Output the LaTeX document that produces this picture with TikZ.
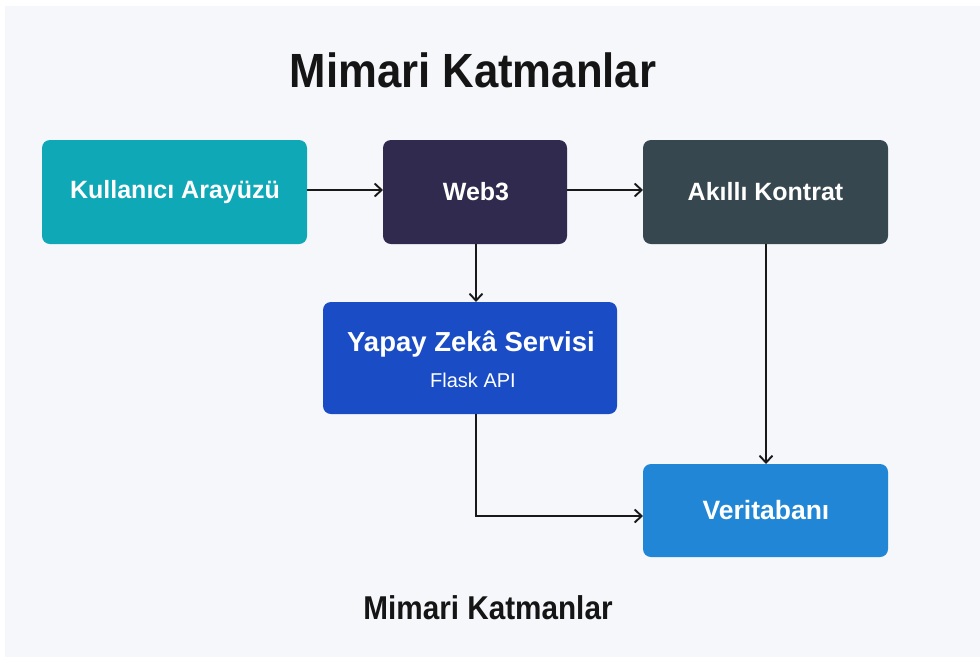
\documentclass[tikz,border=0pt]{standalone}
\usepackage{fontspec}
\setmainfont{Liberation Sans}
\usetikzlibrary{arrows.meta}
\definecolor{bgc}{HTML}{F5F7FA}
\definecolor{teal}{HTML}{0FA8B7}
\definecolor{webc}{HTML}{2F2A4E}
\definecolor{kontc}{HTML}{36474F}
\definecolor{aic}{HTML}{1A4CC5}
\definecolor{dbc}{HTML}{2086D5}
\definecolor{txt}{HTML}{151515}
\tikzset{
  box/.style={draw=none, text=white, font=\bfseries\fontsize{25}{29}\selectfont},
  conn/.style={line width=1.9pt, draw=black!90, -{Straight Barb[length=7pt,width=13pt,line width=1.9pt]}},
}
\begin{document}
\begin{tikzpicture}[x=1pt,y=-1pt]
\useasboundingbox (0,0) rectangle (980,657);
\fill[white] (0,0) rectangle (980,657);
\fill[bgc] (5,6) rectangle (980,657);
\node[font=\bfseries\fontsize{48}{52}\selectfont, text=txt, xscale=0.91] (title) at (473,70) {Mimari Katmanlar};
\fill[teal, rounded corners=8pt] (42,140) rectangle (307,244);
\node[box] (ui) at (175,192) {Kullanıcı Arayüzü};
\coordinate (uiE) at (307,190);
\fill[webc, rounded corners=8pt] (383,140) rectangle (567,244);
\node[box] (w3) at (476,192) {Web3};
\coordinate (w3W) at (383,190);
\coordinate (w3E) at (567,190);
\coordinate (w3S) at (476,244);
\fill[kontc, rounded corners=8pt] (643,140) rectangle (888,244);
\node[box] (sc) at (765.5,192) {Akıllı Kontrat};
\coordinate (scW) at (643,190);
\coordinate (scS) at (766,244);
\fill[aic, rounded corners=8pt] (323,302) rectangle (617,414);
\node[box, font=\bfseries\fontsize{27.5}{32}\selectfont] (ai) at (471,344) {Yapay Zekâ Servisi};
\node[text=white, font=\fontsize{20}{24}\selectfont] (flask) at (473,380) {Flask API};
\coordinate (aiN) at (476,302);
\coordinate (aiS) at (476,414);
\fill[dbc, rounded corners=8pt] (643,464) rectangle (888,557);
\node[box, font=\bfseries\fontsize{26.5}{30}\selectfont] (db) at (766,510) {Veritabanı};
\coordinate (dbN) at (766,464);
\coordinate (dbW) at (643,516);
\coordinate (bend) at (476,516);
\draw[conn] (uiE) -- (w3W);
\draw[conn] (w3E) -- (scW);
\draw[conn] (w3S) -- (aiN);
\draw[conn] (scS) -- (dbN);
\draw[conn] (aiS) -- (bend) -- (dbW);
\node[font=\bfseries\fontsize{33}{37}\selectfont, text=txt, xscale=0.9] (sub) at (488,608) {Mimari Katmanlar};
\end{tikzpicture}
\end{document}
